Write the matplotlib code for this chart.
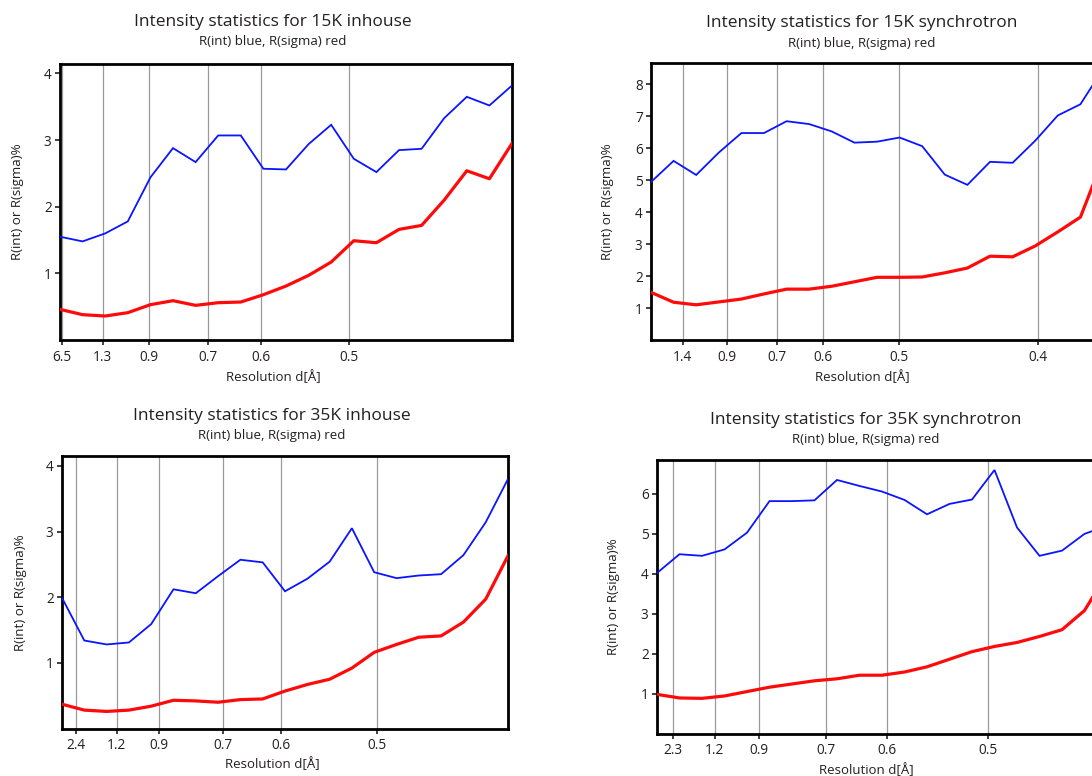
import numpy as np
import matplotlib.pyplot as plt

plt.rcParams['font.family'] = ['Open Sans', 'DejaVu Sans']

W, H = 1092, 776
INK = '#231f20'

# 15K inhouse, 21 shells of equal width in 1/d^2
inh15_rint = [1.55, 1.48, 1.60, 1.78, 2.44, 2.88, 2.67, 3.07, 3.07, 2.57, 2.56,
              2.94, 3.23, 2.72, 2.52, 2.85, 2.87, 3.33, 3.65, 3.52, 3.82]
inh15_rsig = [0.46, 0.38, 0.36, 0.41, 0.53, 0.59, 0.52, 0.56, 0.57, 0.68, 0.81,
              0.97, 1.17, 1.49, 1.46, 1.66, 1.72, 2.10, 2.54, 2.42, 2.95]
inh15_dmin = 0.400
inh15_ticks = [6.5, 1.3, 0.9, 0.7, 0.6, 0.5]

# 15K synchrotron
syn15_rint = [4.94, 5.60, 5.16, 5.86, 6.47, 6.47, 6.84, 6.75, 6.52, 6.17, 6.20,
              6.33, 6.06, 5.17, 4.85, 5.57, 5.54, 6.23, 7.02, 7.37, 8.47]
syn15_rsig = [1.49, 1.18, 1.10, 1.19, 1.28, 1.44, 1.59, 1.59, 1.68, 1.82, 1.96,
              1.96, 1.97, 2.10, 2.25, 2.62, 2.60, 2.94, 3.38, 3.84, 5.65]
syn15_dmin = 0.370
syn15_ticks = [1.4, 0.9, 0.7, 0.6, 0.5, 0.4]

# 35K inhouse
inh35_rint = [1.99, 1.34, 1.28, 1.31, 1.59, 2.12, 2.06, 2.32, 2.57, 2.53, 2.09,
              2.28, 2.54, 3.05, 2.38, 2.29, 2.33, 2.35, 2.64, 3.14, 3.80]
inh35_rsig = [0.37, 0.28, 0.26, 0.28, 0.34, 0.43, 0.42, 0.40, 0.44, 0.45, 0.57,
              0.67, 0.75, 0.92, 1.16, 1.28, 1.39, 1.41, 1.62, 1.97, 2.63]
inh35_dmin = 0.420
inh35_ticks = [2.4, 1.2, 0.9, 0.7, 0.6, 0.5]

# 35K synchrotron
syn35_rint = [4.02, 4.49, 4.45, 4.61, 5.03, 5.82, 5.82, 5.84, 6.35, 6.20, 6.06,
              5.85, 5.49, 5.75, 5.86, 6.60, 5.16, 4.45, 4.58, 5.00, 5.20]
syn35_rsig = [0.98, 0.89, 0.88, 0.94, 1.05, 1.16, 1.24, 1.32, 1.37, 1.46, 1.46,
              1.54, 1.67, 1.86, 2.05, 2.18, 2.28, 2.43, 2.60, 3.08, 4.00]
syn35_dmin = 0.429
syn35_ticks = [2.3, 1.2, 0.9, 0.7, 0.6, 0.5]

SUBTITLE = 'R(int) blue, R(sigma) red'


def fig_xy(x, y):
    return x / W, 1 - y / H


def draw_panel(fig, box, title, text_x, title_y, xlabel_y, ylabel_x,
               r_int, r_sig, d_min, ticks, ymax, yticks):
    left, top, right, bottom = box
    ax = fig.add_axes([left / W, 1 - bottom / H, (right - left) / W, (bottom - top) / H])

    shells = np.arange(len(r_int))
    last = shells[-1]
    # shells are equally wide in 1/d^2, so a resolution d sits at last*(d_min/d)^2
    tick_pos = [last * (d_min / d) ** 2 for d in ticks]

    for x in tick_pos:
        ax.axvline(x, color='#9a9a9a', lw=0.9, zorder=1)
    ax.plot(shells, r_int, color='#0a14ff', lw=1.3, zorder=3, solid_joinstyle='miter')
    ax.plot(shells, r_sig, color='#ff0a0a', lw=2.3, zorder=3)

    ax.set_xlim(0, last)
    ax.set_ylim(0, ymax)
    ax.set_xticks(tick_pos)
    ax.set_xticklabels([str(d) for d in ticks])
    ax.set_yticks(yticks)
    ax.tick_params(direction='out', length=3.5, width=1.2, colors=INK,
                   labelsize=9.8, pad=2.5)
    ax.tick_params(axis='x', pad=3.5)
    for side in ax.spines.values():
        side.set_linewidth(2.0)
        side.set_color('black')

    cy = (top + bottom) / 2
    fig.text(*fig_xy(text_x, title_y), title, ha='center', va='center',
             fontsize=12.5, color=INK)
    fig.text(*fig_xy(text_x, title_y + 20), SUBTITLE, ha='center', va='center',
             fontsize=9.6, color=INK)
    fig.text(*fig_xy(text_x, xlabel_y), 'Resolution d[Å]', ha='center', va='center',
             fontsize=9.5, color=INK)
    fig.text(*fig_xy(ylabel_x, cy), 'R(int) or R(sigma)%', ha='center', va='center',
             rotation=90, fontsize=9.6, color=INK)
    return ax


fig = plt.figure(figsize=(W / 100, H / 100), dpi=100)

draw_panel(fig, (60, 63.5, 512, 340), 'Intensity statistics for 15K inhouse',
           273, 22, 377, 18, inh15_rint, inh15_rsig, inh15_dmin, inh15_ticks,
           4.15, [1, 2, 3, 4])
draw_panel(fig, (651, 63, 1103, 340), 'Intensity statistics for 15K synchrotron',
           862, 23, 377, 608, syn15_rint, syn15_rsig, syn15_dmin, syn15_ticks,
           8.66, [1, 2, 3, 4, 5, 6, 7, 8])
draw_panel(fig, (62, 456, 508, 728.5), 'Intensity statistics for 35K inhouse',
           272, 416, 764, 21, inh35_rint, inh35_rsig, inh35_dmin, inh35_ticks,
           4.15, [1, 2, 3, 4])
draw_panel(fig, (657, 460, 1107, 733.5), 'Intensity statistics for 35K synchrotron',
           866, 420, 770, 613, syn35_rint, syn35_rsig, syn35_dmin, syn35_ticks,
           6.85, [1, 2, 3, 4, 5, 6])

fig.savefig('out.png', dpi=100)
